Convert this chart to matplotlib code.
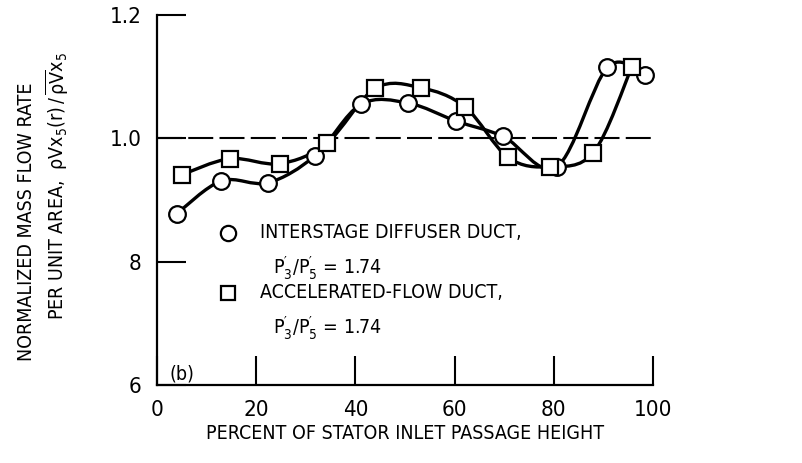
import numpy as np
import matplotlib
matplotlib.use("Agg")
import matplotlib.pyplot as plt
from matplotlib.path import Path
from matplotlib.patches import PathPatch

plt.rcParams['font.family'] = ['DejaVu Sans']
plt.rcParams['font.stretch'] = 'condensed'
plt.rcParams['mathtext.fontset'] = 'custom'
plt.rcParams['mathtext.rm'] = 'DejaVu Sans:stretch=condensed'
plt.rcParams['mathtext.it'] = 'DejaVu Sans:stretch=condensed'

# data
diffuser_x = [4.0, 13.0, 22.4, 31.9, 41.1, 50.7, 60.3, 69.8, 80.6, 90.8, 98.4]
diffuser_y = [0.878, 0.931, 0.928, 0.972, 1.055, 1.057, 1.028, 1.003, 0.954, 1.115, 1.102]

accel_x = [5.0, 14.7, 24.8, 34.2, 44.0, 53.2, 62.1, 70.8, 79.2, 88.0, 95.7]
accel_y = [0.941, 0.967, 0.959, 0.992, 1.081, 1.082, 1.051, 0.969, 0.954, 0.977, 1.115]

x_ticks = [0, 20, 40, 60, 80, 100]
y_ticks = [0.6, 0.8, 1.0, 1.2]
y_ticklabels = ['6', '8', '1.0', '1.2']

FS = 14


def smooth_path(xs, ys):
    # catmull-rom curve through the points, as cubic bezier segments
    p = np.column_stack([xs, ys])
    p = np.vstack([p[0], p, p[-1]])
    verts = [p[1]]
    codes = [Path.MOVETO]
    for i in range(1, len(p) - 2):
        c1 = p[i] + (p[i + 1] - p[i - 1]) / 6.0
        c2 = p[i + 1] - (p[i + 2] - p[i]) / 6.0
        verts += [c1, c2, p[i + 1]]
        codes += [Path.CURVE4] * 3
    return Path(verts, codes)


fig = plt.figure(figsize=(8.02, 4.63), dpi=100)
ax = fig.add_axes([157 / 802, 78 / 463, 496 / 802, 370 / 463])

ax.axhline(1.0, color='black', lw=1.5, ls=(0, (12, 3)), zorder=1)

for xs, ys in [(diffuser_x, diffuser_y), (accel_x, accel_y)]:
    ax.add_patch(PathPatch(smooth_path(xs, ys), fill=False, lw=2.4,
                           edgecolor='black', zorder=2))

ax.plot(diffuser_x, diffuser_y, 'o', ms=12, mfc='white', mec='black',
        mew=1.6, ls='none', zorder=3, clip_on=False)
ax.plot(accel_x, accel_y, 's', ms=11.5, mfc='white', mec='black',
        mew=1.6, ls='none', zorder=3, clip_on=False)

ax.set_xlim(0, 100)
ax.set_ylim(0.6, 1.2)
ax.set_xticks(x_ticks)
ax.set_yticks(y_ticks)
ax.set_yticklabels(y_ticklabels)
ax.tick_params(direction='in', length=21, width=1.5, labelsize=16, pad=11)
ax.tick_params(axis='y', pad=11)
for s in ['top', 'right']:
    ax.spines[s].set_visible(False)
for s in ['left', 'bottom']:
    ax.spines[s].set_linewidth(1.6)

ax.set_xlabel('PERCENT OF STATOR INLET PASSAGE HEIGHT', fontsize=FS, labelpad=3)

fig.text(27 / 802, 1 - 222 / 463, 'NORMALIZED MASS FLOW RATE', rotation=90,
         ha='center', va='center', fontsize=FS)
fig.text(57 / 802, 1 - 186 / 463,
         r'PER UNIT AREA,  $\mathrm{\rho Vx_5(r)\,/\,\overline{\rho V}x_5}$',
         rotation=90, ha='center', va='center', fontsize=FS)

# legend
ax.plot([0.143], [0.411], 'o', ms=11, mfc='white', mec='black', mew=1.6,
        transform=ax.transAxes)
ax.plot([0.143], [0.249], 's', ms=10.5, mfc='white', mec='black', mew=1.6,
        transform=ax.transAxes)
ax.text(0.208, 0.411, 'INTERSTAGE DIFFUSER DUCT,', transform=ax.transAxes,
        fontsize=FS, va='center')
ax.text(0.234, 0.316, r"$\mathrm{P_3^{\prime}/P_5^{\prime}}$ = 1.74",
        transform=ax.transAxes, fontsize=FS, va='center')
ax.text(0.208, 0.249, 'ACCELERATED-FLOW DUCT,', transform=ax.transAxes,
        fontsize=FS, va='center')
ax.text(0.234, 0.154, r"$\mathrm{P_3^{\prime}/P_5^{\prime}}$ = 1.74",
        transform=ax.transAxes, fontsize=FS, va='center')
ax.text(0.026, 0.005, '(b)', transform=ax.transAxes, fontsize=FS, va='bottom')

fig.savefig('out.png', dpi=100)
